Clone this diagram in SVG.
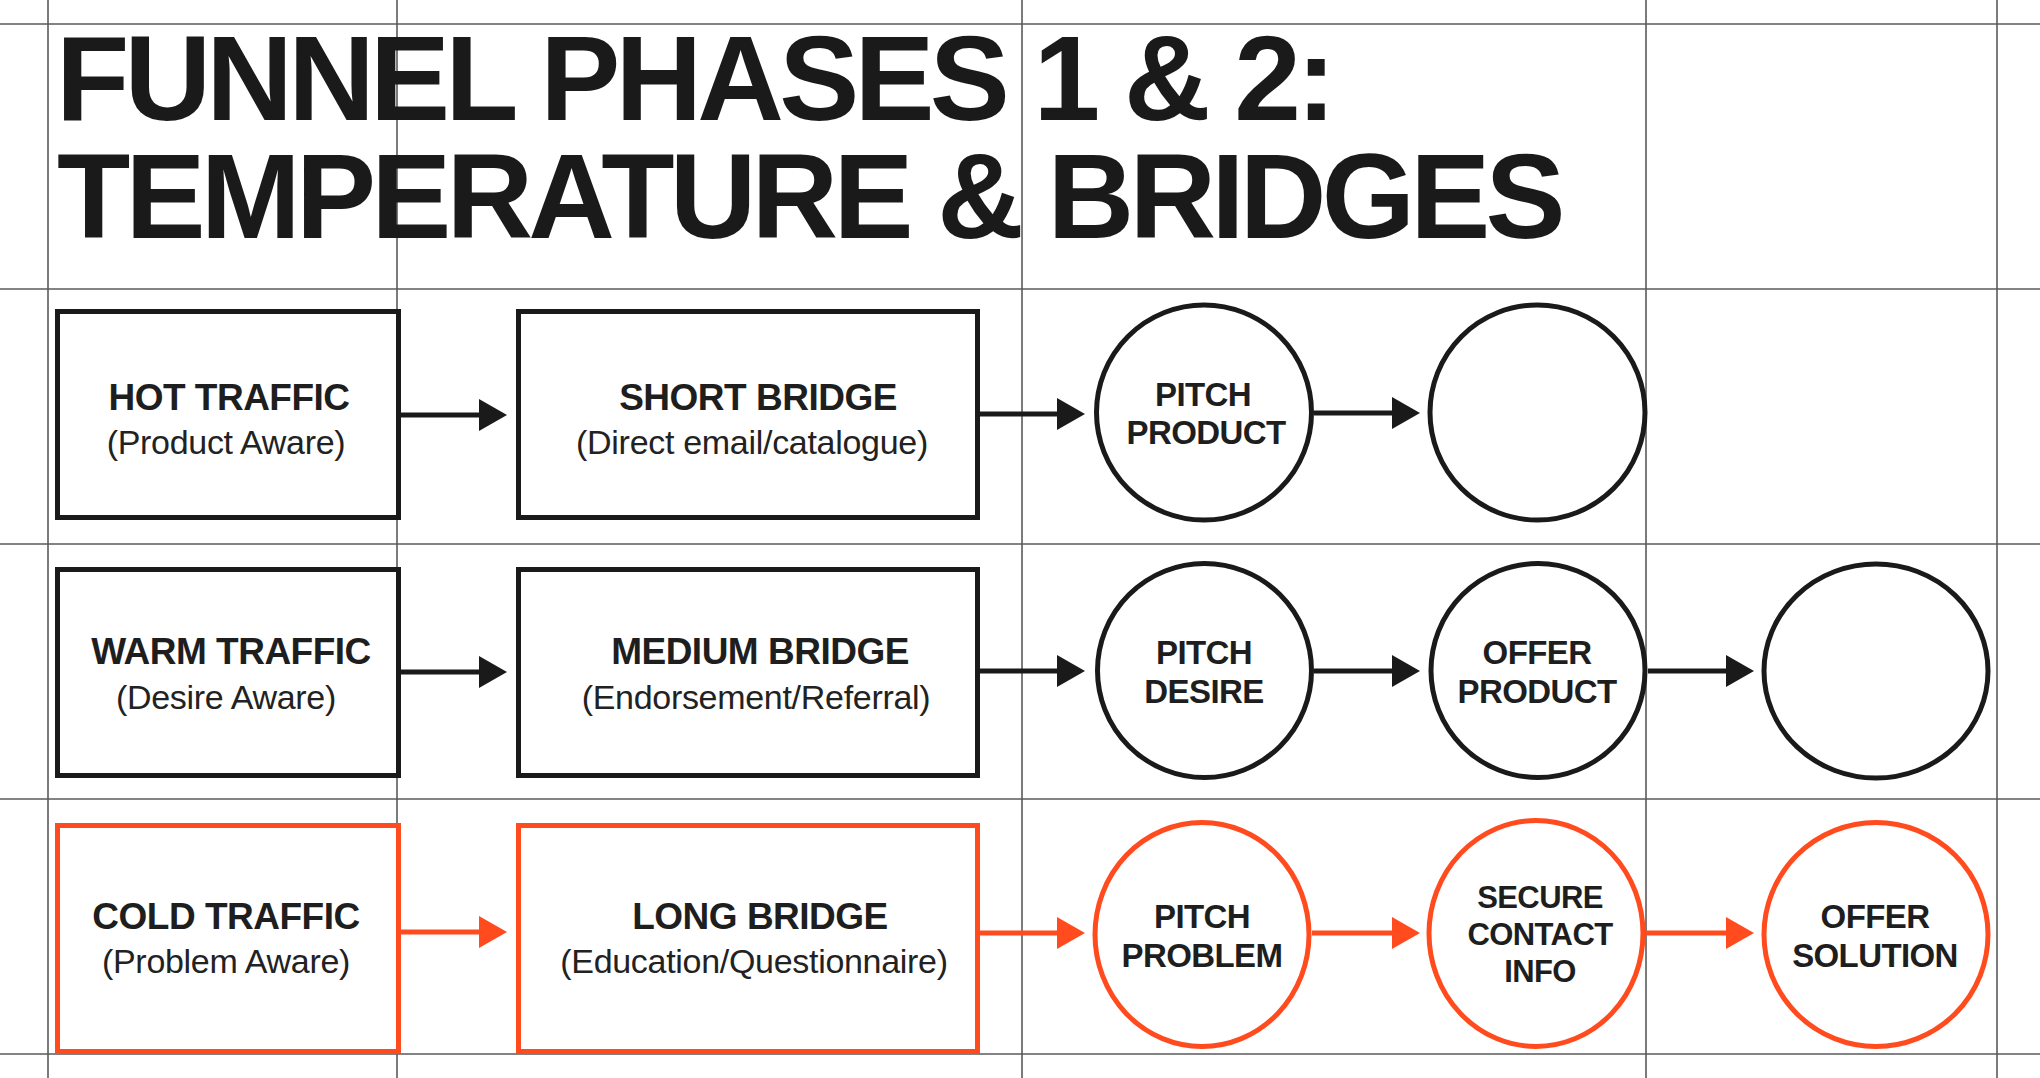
<svg xmlns="http://www.w3.org/2000/svg" width="2040" height="1078" viewBox="0 0 2040 1078">
<defs>
<style>
.grid{stroke:#5a5a5a;stroke-width:1.6;fill:none}
.title{font-family:"Liberation Sans",Arial,sans-serif;font-weight:bold;font-size:120px;letter-spacing:-4.8px;fill:#1a1a1a}
.box{fill:#fff;stroke:#1a1a1a;stroke-width:5}
.circ{fill:#fff;stroke:#1a1a1a;stroke-width:5}
.hot .box,.hot .circ{stroke:#FF4B1E}
.bt{font-family:"Liberation Sans",Arial,sans-serif;font-weight:bold;font-size:37px;fill:#1e1e1e;text-anchor:middle;letter-spacing:-0.5px}
.bs{font-family:"Liberation Sans",Arial,sans-serif;font-size:34px;fill:#222;text-anchor:middle;letter-spacing:-0.3px}
.ct{font-family:"Liberation Sans",Arial,sans-serif;font-weight:bold;font-size:33px;fill:#1e1e1e;text-anchor:middle;letter-spacing:-0.6px}
.ct2{font-size:31px}
.arr{stroke:#1a1a1a;stroke-width:5;fill:none;marker-end:url(#ah)}
.arr.o{stroke:#FF4B1E;marker-end:url(#aho)}
</style>
<marker id="ah" markerUnits="userSpaceOnUse" markerWidth="30" markerHeight="34" refX="14" refY="16" orient="auto"><path d="M0,0 L28,16 L0,32 Z" fill="#1a1a1a"/></marker>
<marker id="aho" markerUnits="userSpaceOnUse" markerWidth="30" markerHeight="34" refX="14" refY="16" orient="auto"><path d="M0,0 L28,16 L0,32 Z" fill="#FF4B1E"/></marker>
</defs>
<rect width="2040" height="1078" fill="#fff"/>
<g id="grid" class="grid">
<line x1="0" y1="24" x2="2040" y2="24"/>
<line x1="0" y1="289" x2="2040" y2="289"/>
<line x1="0" y1="544" x2="2040" y2="544"/>
<line x1="0" y1="799" x2="2040" y2="799"/>
<line x1="0" y1="1054" x2="2040" y2="1054"/>
<line x1="48" y1="0" x2="48" y2="1078"/>
<line x1="397" y1="0" x2="397" y2="1078"/>
<line x1="1022" y1="0" x2="1022" y2="1078"/>
<line x1="1646" y1="0" x2="1646" y2="1078"/>
<line x1="1997" y1="0" x2="1997" y2="1078"/>
</g>
<g id="title">
<text class="title" x="56" y="120">FUNNEL PHASES 1 &amp; 2:</text>
<text class="title" x="57" y="238">TEMPERATURE &amp; BRIDGES</text>
</g>
<g id="connectors">
<line class="arr" x1="401" y1="415" x2="493" y2="415"/>
<line class="arr" x1="980" y1="414" x2="1071" y2="414"/>
<line class="arr" x1="1314" y1="413" x2="1406" y2="413"/>
<line class="arr" x1="401" y1="672" x2="493" y2="672"/>
<line class="arr" x1="980" y1="671" x2="1071" y2="671"/>
<line class="arr" x1="1314" y1="671" x2="1406" y2="671"/>
<line class="arr" x1="1648" y1="671" x2="1740" y2="671"/>
<line class="arr o" x1="401" y1="932" x2="493" y2="932"/>
<line class="arr o" x1="980" y1="933" x2="1071" y2="933"/>
<line class="arr o" x1="1312" y1="933" x2="1406" y2="933"/>
<line class="arr o" x1="1646" y1="933" x2="1740" y2="933"/>
</g>
<g id="hot-traffic"><rect class="box" x="57.5" y="311.5" width="341" height="206"/><text class="bt" x="229" y="410">HOT TRAFFIC</text><text class="bs" x="226" y="454">(Product Aware)</text></g>
<g id="short-bridge"><rect class="box" x="518.5" y="311.5" width="459" height="206"/><text class="bt" x="758" y="410">SHORT BRIDGE</text><text class="bs" x="752" y="454">(Direct email/catalogue)</text></g>
<g id="pitch-product"><circle class="circ" cx="1204" cy="412.5" r="107.5"/><text class="ct" x="1203" y="406">PITCH</text><text class="ct" x="1206" y="444">PRODUCT</text></g>
<g id="empty-1"><circle class="circ" cx="1537.5" cy="412.5" r="107.5"/></g>
<g id="warm-traffic"><rect class="box" x="57.5" y="569.5" width="341" height="206"/><text class="bt" x="231" y="664">WARM TRAFFIC</text><text class="bs" x="226" y="709">(Desire Aware)</text></g>
<g id="medium-bridge"><rect class="box" x="518.5" y="569.5" width="459" height="206"/><text class="bt" x="760" y="664">MEDIUM BRIDGE</text><text class="bs" x="756" y="709">(Endorsement/Referral)</text></g>
<g id="pitch-desire"><circle class="circ" cx="1204.5" cy="670.5" r="107"/><text class="ct" x="1204" y="664">PITCH</text><text class="ct" x="1204" y="703">DESIRE</text></g>
<g id="offer-product"><circle class="circ" cx="1538" cy="670.5" r="107"/><text class="ct" x="1537" y="664">OFFER</text><text class="ct" x="1537" y="703">PRODUCT</text></g>
<g id="empty-2"><ellipse class="circ" cx="1876" cy="671" rx="112" ry="107"/></g>
<g id="cold-traffic" class="hot"><rect class="box" x="57.5" y="825.5" width="341" height="226"/><text class="bt" x="226" y="929">COLD TRAFFIC</text><text class="bs" x="226" y="973">(Problem Aware)</text></g>
<g id="long-bridge" class="hot"><rect class="box" x="518.5" y="825.5" width="459" height="226"/><text class="bt" x="760" y="929">LONG BRIDGE</text><text class="bs" x="754" y="973">(Education/Questionnaire)</text></g>
<g id="pitch-problem" class="hot"><ellipse class="circ" cx="1202" cy="934.5" rx="107" ry="112"/><text class="ct" x="1202" y="928">PITCH</text><text class="ct" x="1202" y="967">PROBLEM</text></g>
<g id="secure-contact-info" class="hot"><ellipse class="circ" cx="1536" cy="933.5" rx="107" ry="113"/><text class="ct ct2" x="1540" y="908">SECURE</text><text class="ct ct2" x="1540" y="945">CONTACT</text><text class="ct ct2" x="1540" y="982">INFO</text></g>
<g id="offer-solution" class="hot"><ellipse class="circ" cx="1876" cy="934.5" rx="112" ry="112"/><text class="ct" x="1875" y="928">OFFER</text><text class="ct" x="1875" y="967">SOLUTION</text></g>
</svg>
